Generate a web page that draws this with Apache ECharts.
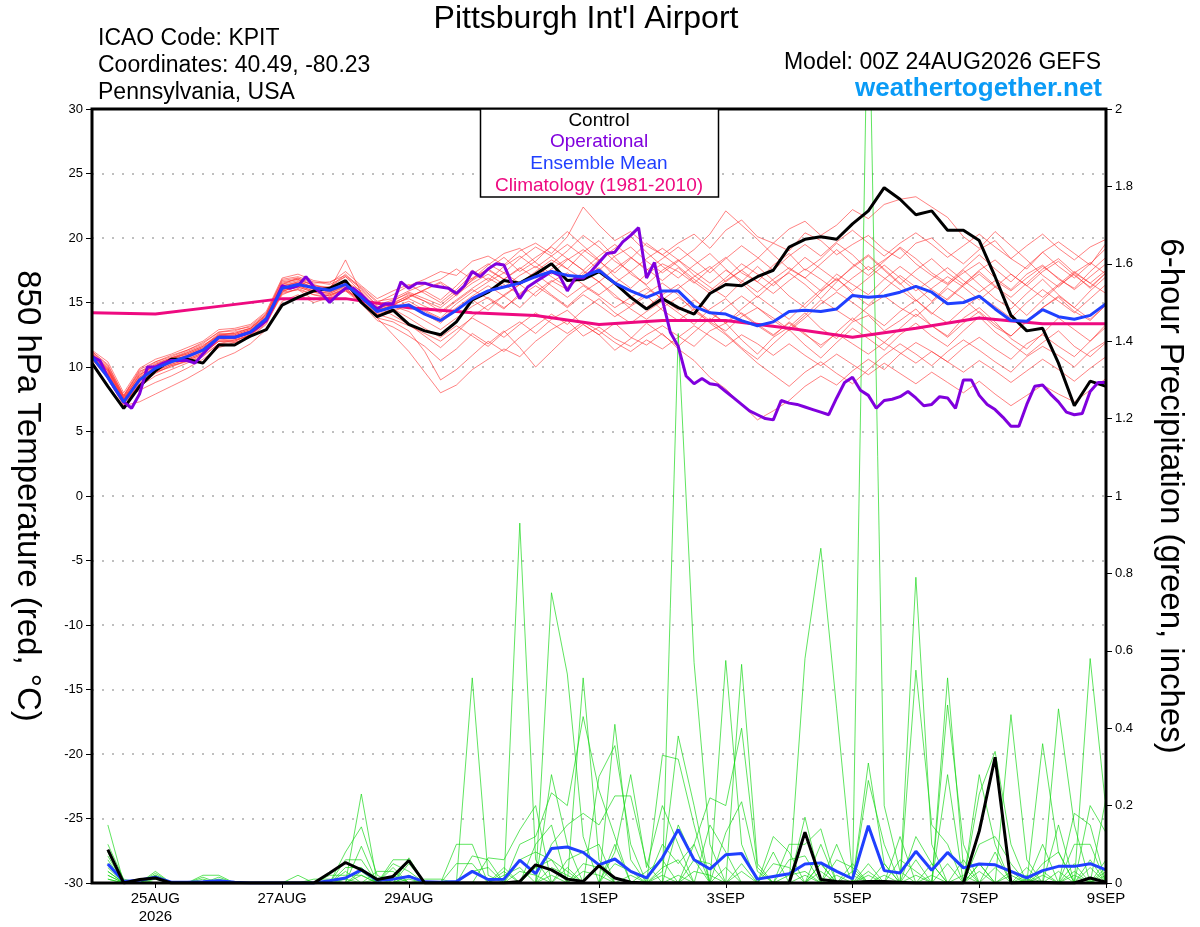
<!DOCTYPE html>
<html><head><meta charset="utf-8">
<script src="https://cdn.jsdelivr.net/npm/echarts@6/dist/echarts.min.js"></script>
<style>html,body{margin:0;padding:0;background:#fff}#c{width:1200px;height:927px}</style>
</head><body><div id="c"></div>
<script>
// ---- time grid (hours after 00Z 24AUG2026) ----
const STEP = 6, OP_STEP = 3, CLIM_STEP = 24, PRECIP_START = 6;
const xTickHours = [24, 72, 120, 192, 240, 288, 336, 384];
const xTickLabels = ['25AUG\n2026', '27AUG', '29AUG', '1SEP', '3SEP', '5SEP', '7SEP', '9SEP'];

// ---- 850 hPa temperature (deg C) ----
const climatology = [14.2,14.1,14.7,15.3,15.3,14.6,14.2,14.0,13.3,13.6,13.6,13.0,12.3,13.0,13.8,13.35,13.35];
const control = [10.3,8.5,6.8,8.5,9.7,10.6,10.6,10.3,11.7,11.7,12.4,12.9,14.8,15.4,15.9,16.1,16.7,15.0,13.9,14.4,13.3,12.8,12.5,13.5,15.2,15.8,16.7,16.5,17.2,18.0,16.7,16.8,17.4,16.5,15.4,14.5,15.3,14.6,14.1,15.7,16.4,16.3,17.0,17.5,19.3,19.9,20.1,19.9,21.1,22.1,23.9,23.0,21.8,22.1,20.6,20.6,19.8,17.0,14.0,12.8,13.0,10.3,7.0,8.9,8.5];
const operational = [10.8,10.5,9.2,8.2,7.3,6.8,7.9,10.0,10.0,10.3,
  10.5,10.5,10.5,10.3,11.0,11.7,12.3,12.3,12.3,12.5,
  12.7,13.1,13.6,14.9,16.3,16.1,16.3,17.0,16.2,15.7,
  15.0,15.6,16.1,16.1,15.6,15.0,14.5,14.9,14.9,16.6,
  16.1,16.5,16.5,16.3,16.2,16.1,15.7,16.3,17.4,17.0,
  17.6,18.0,17.9,16.5,15.3,16.2,16.6,17.0,17.4,17.1,
  15.9,16.9,16.9,17.4,18.1,18.8,18.9,19.7,20.2,20.8,
  16.9,18.1,15.2,12.7,11.6,9.3,8.7,9.1,8.7,8.6,
  8.1,7.6,7.1,6.6,6.3,6.0,5.9,7.4,7.2,7.1,
  6.9,6.7,6.5,6.3,7.6,8.8,9.2,8.2,7.8,6.8,
  7.4,7.5,7.7,8.1,7.6,7.0,7.1,7.7,7.6,6.8,
  9.0,9.0,7.8,7.1,6.7,6.1,5.4,5.4,7.1,8.5,
  8.6,7.9,7.3,6.5,6.3,6.4,8.1,8.8,8.8];
const ensMean = [10.8,9.2,7.3,9.0,9.9,10.4,10.8,11.3,12.3,12.3,12.7,13.75,16.1,16.4,16.15,15.95,16.4,15.4,14.3,14.65,14.8,14.1,13.6,14.4,15.3,15.9,16.2,16.5,17.0,17.4,17.1,17.0,17.5,16.5,15.9,15.4,15.9,15.9,14.7,14.2,14.1,13.6,13.2,13.5,14.3,14.4,14.3,14.5,15.55,15.4,15.5,15.8,16.25,15.8,14.9,15.0,15.5,14.5,13.6,13.55,14.45,13.9,13.7,14.0,14.9];

const tm01 = [11.2,10.2,7.8,9.6,10.4,10.9,11.3,11.9,12.7,12.9,13.1,14.1,16.8,17.0,16.6,16.4,17.0,16.1,15.0,15.6,16.3,16.8,17.4,17.1,18.2,18.6,17.9,19.0,19.6,18.8,20.1,22.4,21.0,19.8,20.5,19.4,18.7,19.6,20.3,19.2,20.6,21.4,20.1,19.6,19.0,20.4,19.8,18.7,19.5,20.2,19.1,18.4,19.6,20.0,18.9,18.0,19.1,19.8,18.4,17.6,18.9,19.7,18.8,17.9,19.6];
const tm02 = [10.9,9.5,7.4,8.2,8.8,9.3,9.9,10.6,11.5,11.9,12.3,13.3,15.8,16.0,15.2,15.6,16.0,15.0,13.8,12.5,11.2,9.6,8.0,8.6,9.8,10.6,11.4,10.8,12.0,12.9,13.6,12.4,13.1,12.2,11.6,12.5,13.2,12.4,11.6,12.8,13.4,12.1,11.0,12.3,13.1,14.2,13.0,12.2,13.5,14.0,12.8,13.6,14.5,13.2,12.4,13.8,14.6,13.5,12.2,11.4,12.6,13.8,12.9,12.0,13.3];
const tm03 = [11.0,9.8,7.6,9.4,10.2,10.6,11.1,11.6,12.5,12.6,13.0,14.0,16.4,16.9,16.3,16.1,16.6,15.9,14.7,14.0,13.3,12.4,11.5,12.6,13.9,14.8,15.5,14.6,15.8,16.7,16.0,17.2,18.3,17.0,16.1,17.2,18.0,17.4,16.5,17.6,18.5,17.3,16.6,17.9,18.8,17.5,18.4,19.6,18.7,17.5,18.3,19.2,18.0,17.1,16.4,17.3,18.1,16.9,16.0,17.2,17.9,16.8,16.1,17.4,18.5];
const tm04 = [10.6,9.1,7.0,7.3,7.9,8.5,9.1,9.8,10.6,11.1,11.8,12.9,15.1,15.6,15.0,15.4,15.9,15.3,14.5,14.9,15.6,15.1,14.3,15.2,16.1,16.9,16.2,17.1,17.8,17.0,16.2,17.4,16.6,15.4,14.8,15.7,16.5,15.6,14.3,13.5,12.8,13.9,14.6,13.8,12.9,14.0,15.2,14.4,13.6,14.7,15.5,14.6,13.9,15.0,16.1,15.3,14.2,13.1,12.4,13.5,14.6,15.4,14.3,13.6,14.8];
const tm05 = [11.3,10.4,8.0,9.9,10.6,11.0,11.5,12.0,12.9,13.0,13.3,14.3,16.9,17.2,16.7,16.5,17.4,16.3,15.3,15.9,16.4,15.7,15.0,16.0,17.2,18.0,17.3,18.4,19.3,18.6,17.6,18.9,19.8,18.5,17.2,16.4,17.5,18.3,17.1,16.2,15.4,16.6,17.8,16.7,15.5,14.6,15.8,16.9,15.7,14.8,16.0,17.1,16.2,15.1,16.3,17.5,16.4,15.3,14.5,15.7,16.8,15.6,14.6,15.9,17.0];
const tm06 = [10.8,9.4,7.3,8.9,9.7,10.2,10.6,11.1,12.0,12.1,12.5,13.6,15.9,16.2,15.8,15.6,16.1,15.1,14.1,14.5,13.8,13.0,12.3,13.2,12.4,11.6,12.7,13.5,12.6,13.7,14.4,13.3,12.5,13.4,12.3,11.7,12.6,11.4,10.5,9.2,8.3,7.1,5.9,6.6,7.4,8.5,9.3,8.6,9.7,10.6,9.8,11.0,11.9,11.2,10.4,11.5,12.3,11.4,10.6,11.8,12.5,11.6,10.8,12.0,13.1];
const tm07 = [11.1,10.0,7.7,9.7,10.0,10.7,11.2,11.7,12.4,12.7,13.0,14.1,16.6,16.8,16.0,16.2,17.0,15.8,14.4,14.8,15.4,16.0,16.5,15.5,16.8,17.6,18.5,17.4,18.2,19.4,20.5,19.4,18.3,19.2,20.1,18.9,17.8,16.9,17.9,18.8,17.6,16.5,15.4,16.5,17.3,16.4,15.3,16.6,17.8,18.7,17.6,16.5,15.2,14.1,15.3,16.4,17.4,16.3,15.1,14.0,15.2,16.3,17.2,16.1,17.3];
const tm08 = [10.7,9.3,7.2,8.6,9.5,10.1,10.5,11.0,12.0,12.0,12.5,13.5,15.8,16.4,16.2,15.8,16.3,15.2,13.9,14.3,14.8,14.1,13.4,14.5,15.2,14.4,15.6,16.4,15.5,16.6,17.3,16.4,15.6,16.5,17.4,16.3,15.2,16.1,17.0,17.8,16.6,17.5,18.4,19.6,20.7,21.3,20.2,21.0,22.2,21.5,22.6,23.0,23.2,22.4,21.6,20.1,19.2,20.5,19.4,18.3,17.1,16.2,17.3,18.1,17.2];
const tm09 = [10.9,9.7,7.5,9.2,10.1,10.5,10.9,11.4,12.3,12.4,12.8,13.8,16.2,16.6,16.2,15.9,16.5,15.5,14.3,14.6,15.1,14.4,13.8,14.9,15.8,16.6,17.3,16.5,17.4,18.3,17.6,16.8,17.7,16.5,15.5,14.6,15.6,16.4,15.3,14.2,13.4,14.5,15.5,14.6,13.7,14.9,16.0,17.2,16.4,15.6,16.8,17.8,16.9,16.0,15.2,16.3,17.2,16.2,15.4,16.5,17.6,18.4,17.3,16.5,15.7];
const tm10 = [10.6,9.2,7.1,8.7,9.6,10.1,10.4,10.9,11.8,12.1,12.4,13.5,15.7,16.0,15.6,15.3,15.9,14.9,13.6,13.1,12.4,11.6,10.5,11.4,12.6,11.8,12.8,11.5,10.0,11.2,12.4,13.3,12.5,11.3,12.2,13.4,12.5,11.6,12.7,13.8,12.6,11.5,10.6,11.8,12.9,11.7,10.7,11.9,13.0,12.2,11.3,12.5,13.4,12.4,11.6,12.8,13.9,12.7,11.8,10.9,11.9,12.8,11.6,10.8,11.9];
const tm11 = [11.0,9.9,7.6,9.3,10.2,10.7,11.0,11.5,12.5,12.5,12.9,13.9,16.4,16.7,16.4,16.0,16.7,15.6,14.5,15.0,15.5,15.9,15.2,16.3,17.5,16.7,17.8,18.6,17.7,18.6,19.5,18.6,17.5,18.6,19.3,18.2,17.3,18.2,19.1,20.3,22.1,21.0,19.9,18.7,17.6,16.9,18.0,19.1,18.0,17.1,18.2,19.3,18.4,17.3,16.5,17.6,18.7,17.6,16.6,17.8,18.9,17.8,16.9,18.0,19.2];
const tm12 = [10.8,9.5,7.4,9.0,9.8,10.3,10.7,11.2,12.2,12.2,12.6,13.6,16.0,16.3,15.9,15.7,16.2,15.3,14.2,14.7,14.3,13.6,12.9,13.8,14.7,15.4,14.6,15.5,16.3,15.5,14.6,15.6,14.8,13.9,14.7,15.5,14.4,13.6,14.5,13.4,12.5,11.4,10.3,9.4,8.5,9.6,10.4,9.5,8.7,9.8,10.9,11.8,11.0,10.1,11.2,12.1,11.3,10.4,9.6,10.8,11.6,10.9,10.0,11.2,12.0];
const tm13 = [11.2,10.1,7.8,9.8,10.4,10.8,11.3,11.8,12.7,12.8,13.2,14.2,16.7,16.9,16.5,16.6,17.1,16.2,15.1,15.3,15.9,16.4,16.8,17.6,16.8,17.9,18.8,19.2,18.1,17.2,18.3,19.1,18.2,17.3,18.4,19.6,18.7,17.8,16.8,15.9,16.9,18.0,17.2,16.3,17.4,18.5,17.6,16.7,17.7,18.6,17.5,16.4,17.5,18.4,17.3,16.4,17.5,18.3,17.2,16.3,17.4,18.2,17.1,16.2,17.3];
const tm14 = [10.7,9.2,7.2,8.5,9.3,9.8,10.3,10.8,11.8,11.9,12.3,13.4,15.6,16.1,15.6,15.5,16.0,15.0,13.8,13.5,12.8,11.2,9.0,9.8,10.9,12.0,11.2,12.3,13.2,14.1,13.3,14.4,15.3,14.2,13.4,14.3,15.1,14.2,13.3,14.5,15.3,14.1,13.2,12.4,13.5,12.6,11.5,12.7,13.8,12.8,11.9,13.0,14.1,13.2,12.3,13.4,14.3,13.3,12.4,13.6,14.6,15.5,14.6,13.7,14.8];
const tm15 = [11.0,9.7,7.5,9.1,10.0,10.5,10.9,11.4,12.4,12.4,12.8,13.8,16.3,16.5,16.1,16.0,16.6,15.6,14.6,14.9,15.3,14.7,14.2,15.1,16.0,15.3,14.5,15.7,16.6,15.6,14.7,15.8,16.6,15.6,14.5,13.7,14.6,15.4,14.5,13.6,14.6,15.5,14.6,13.6,12.8,13.8,14.9,15.8,15.0,14.1,13.2,14.3,15.2,14.2,13.4,14.5,15.5,14.7,13.8,15.0,16.0,15.1,14.2,15.3,16.4];
const tm16 = [10.9,9.6,7.4,9.2,10.0,10.4,10.8,11.3,12.2,12.3,12.7,13.7,16.1,16.5,16.0,15.8,16.4,15.4,14.4,14.8,15.4,16.0,16.6,15.8,16.7,17.5,16.8,17.6,18.5,19.3,18.4,17.5,18.6,19.5,18.5,17.5,18.4,19.3,18.3,17.3,18.4,19.4,18.5,17.5,18.6,19.5,18.6,19.7,20.6,19.6,18.6,19.6,20.4,19.5,18.5,19.4,20.3,19.3,18.4,19.4,20.3,19.2,18.3,19.3,19.9];
const tm17 = [10.7,9.3,7.2,8.7,9.6,10.0,10.5,11.0,12.0,12.0,12.5,13.5,15.9,16.2,15.8,15.5,16.1,15.1,14.0,14.4,14.9,14.3,13.7,14.6,15.5,16.3,15.5,16.4,17.2,16.3,15.4,16.3,15.5,14.6,15.4,16.1,15.3,14.4,15.2,14.3,13.4,14.2,13.3,12.5,13.4,12.5,11.7,12.6,11.8,11.0,11.9,11.1,10.3,11.2,10.4,9.6,10.5,9.7,8.8,9.7,10.6,9.8,8.9,9.9,10.8];
const tm18 = [11.1,9.9,7.7,9.5,10.3,10.7,11.1,11.6,12.6,12.6,13.0,14.0,16.5,16.8,16.3,16.2,17.2,16.0,14.8,15.2,15.7,15.1,14.6,15.6,16.5,17.2,16.4,15.6,16.7,17.6,18.4,17.5,16.6,17.6,18.5,17.6,16.7,17.7,16.6,15.7,16.7,17.5,16.6,15.7,16.7,17.6,16.8,15.9,16.9,17.8,16.9,16.0,15.1,16.1,17.0,16.2,15.2,16.2,17.2,16.3,15.4,16.4,17.4,16.5,17.5];
const tm19 = [10.8,9.4,7.3,8.8,9.7,10.2,10.6,11.1,12.1,12.2,12.6,13.6,16.0,16.3,15.9,15.7,16.3,15.2,14.1,13.7,13.2,12.6,12.0,12.9,13.8,13.1,12.3,13.3,14.2,13.4,12.6,13.5,12.8,11.9,11.2,12.1,11.4,12.3,13.2,12.4,11.6,12.5,11.8,10.9,11.8,10.9,10.1,11.0,10.2,9.4,10.3,9.5,8.7,9.6,8.8,8.0,8.9,7.9,7.0,7.8,8.6,7.9,7.3,8.2,9.1];
const tm20 = [11.0,9.8,7.5,9.4,10.1,10.6,11.0,11.5,12.4,12.5,12.9,13.9,16.3,16.6,16.2,16.0,18.3,15.7,14.6,15.1,15.8,15.3,14.8,15.8,16.9,17.6,16.8,17.7,16.9,18.0,19.0,20.2,19.3,18.2,17.4,18.4,19.2,18.3,17.4,16.5,17.5,16.7,15.8,16.8,17.7,16.9,15.9,16.8,15.9,16.9,17.9,16.9,15.9,16.8,17.7,16.7,15.8,16.7,15.9,16.9,17.8,16.9,16.0,17.0,18.0];
const tempMembers = [tm01,tm02,tm03,tm04,tm05,tm06,tm07,tm08,tm09,tm10,tm11,tm12,tm13,tm14,tm15,tm16,tm17,tm18,tm19,tm20];

// ---- 6-hour precipitation (inches), first value = 6h ----
const precipControl = [0.086,0,0.009,0.013,0,0,0,0, 0,0,0,0,0,0,0.026,0.053, 0.034,0.009,0.017,0.058,0,0,0,0, 0,0,0.004,0.047,0.034,0.01,0.004,0.045, 0.013,0.002,0,0,0,0,0,0, 0,0,0,0,0.131,0.009,0.004,0.002, 0.004,0.004,0.002,0,0,0,0,0.134, 0.325,0,0.002,0.002,0,0,0.013,0.002];
const precipMean = [0.049,0.004,0.007,0.015,0.002,0.002,0.003,0.006, 0.002,0,0,0,0,0,0.006,0.013, 0.034,0.007,0.01,0.017,0.003,0.002,0.004,0.03, 0.009,0.01,0.059,0.024,0.089,0.093,0.079,0.047, 0.062,0.03,0.013,0.065,0.138,0.06,0.036,0.073, 0.076,0.01,0.017,0.024,0.049,0.052,0.03,0.011, 0.148,0.032,0.026,0.082,0.033,0.079,0.039,0.049, 0.047,0.03,0.013,0.032,0.043,0.043,0.05,0.034];

const pm01 = [.15,0,0,.02,0,0,0,0, 0,0,0,0,0,0,0,0, .23,0,.05,.03,0,0,0,0, 0,0,.93,.06,0,0,0,0, 0,0,0,0,1.42,.57,.1,0, 0,0,0,0,0,.05,0,0, .31,.05,0,0,0,0,0,.28, .1,0,0,0,0,0,.2,.13];
const pm02 = [.08,0,0,.03,0,0,0,0, 0,0,0,0,0,0,0,.08, .145,.02,0,.065,0,0,0,.53, .02,0,0,0,.28,.1,0,0, .41,.06,0,0,0,0,0,.575, .1,0,0,0,.58,.865,.45,.02, 0,0,0,.06,0,.53,.04,0, 0,0,0,.36,.08,0,0,.22];
const pm03 = [.07,0,0,0,0,0,.02,.02, 0,0,0,0,0,0,0,0, .095,0,.06,.06,0,0,.1,.1, 0,0,0,0,.75,.54,.12,0, 0,0,0,.03,.38,.2,0,0, .565,.05,0,0,0,0,0,0, 2.4,.2,.03,0,0,0,0,0, 0,.435,.06,0,0,0,.58,.19];
const pm04 = [.06,0,0,.025,0,0,0,0, 0,0,0,0,0,0,0,.06, .06,0,0,0,0,0,0,0, .065,.06,.137,.2,0,0,.53,.06, 0,0,0,.33,.32,.15,0,0, 0,0,0,.1,.1,.14,0,0, 0,0,0,.79,.1,0,0,.23, .34,.1,0,0,.45,.15,0,.06];
const pm05 = [.05,0,0,0,0,0,0,.015, 0,0,0,0,0,0,0,.04, .04,0,.04,0,0,0,0,0, 0,0,.1,.12,.233,.2,.43,.24, .12,0,0,0,0,.1,.22,.2, .4,.04,0,0,.17,0,.1,0, .265,.1,0,.55,.15,.1,0,0, 0,0,0,.1,0,.18,.15,0];
const pm06 = [.04,0,0,.02,0,0,0,0, 0,0,0,0,.02,0,0,0, .03,0,0,.05,0,0,0,0, 0,.04,0,.1,.15,0,0,.275, .355,.1,0,0,.15,.06,0,0, 0,0,.12,.08,0,0,0,0, .05,0,.12,0,0,.46,.1,0, 0,0,.04,0,.15,0,0,.04];
const pm07 = [.03,0,0,0,0,0,.015,0, 0,0,0,0,0,0,0,.03, 0,.03,.03,0,0,0,0,.07, .06,0,0,0,.1,.15,.18,.15, .225,.225,.05,0,0,0,0,.13, .21,.03,0,0,0,.1,0,.05, 0,0,0,.12,.05,0,0,.1, .12,.05,0,0,0,.1,.1,0];
const pm08 = [.03,0,0,.015,0,0,0,0, 0,0,0,0,0,0,.02,.02, .02,0,0,.02,0,0,.05,.05, 0,0,.06,.08,.06,0,0,0, .08,.28,.04,.2,.1,0,.15,.08, 0,0,0,.06,.07,0,0,0, 0,.05,0,0,0,.28,0,.05, 0,0,0,.05,.08,0,0,0];
const pm09 = [.02,0,.01,0,0,0,0,.01, 0,0,0,0,0,.01,.01,0, 0,.01,0,.02,0,0,0,0, 0,.02,.04,0,0,.06,.08,.1, 0,0,0,.1,.05,.1,0,0, 0,0,.08,0,0,0,.06,.04, 0,0,0,0,.05,0,.06,0, .08,0,.02,0,0,.05,0,0];
const pm10 = [.02,0,0,.01,0,0,.01,0, 0,0,0,0,0,0,0,0, 0,0,0,0,.01,.01,0,0, 0,0,0,.04,.06,.03,0,0, .1,0,.03,.06,0,.06,.05,0, 0,0,.05,.04,0,.05,0,.03, 0,0,.06,.03,0,0,0,.05, 0,.03,0,.02,0,0,.06,0];
const pm11 = [.01,0,0,0,0,0,0,0, 0,0,0,0,0,0,0,0, .02,0,0,0,0,0,0,0, 0,0,.03,.02,0,0,.05,.04, 0,0,0,.04,.06,0,0,0, .05,0,0,.02,.03,0,0,0, 0,.02,0,0,0,.05,0,.03, 0,0,0,0,.03,0,.04,0];
const pm12 = [.01,0,0,0,0,0,0,0, 0,0,0,0,0,0,0,.01, 0,0,0,.01,0,0,0,0, 0,0,0,0,.04,.02,0,0, .05,.03,0,0,0,.03,.02,0, 0,0,0,0,0,.03,0,0, .03,0,0,.02,0,0,0,0, .04,0,0,0,0,.03,0,.03];
const pm13 = [.1,.01,0,0,0,0,0,0, 0,0,0,0,0,0,0,0, 0,0,0,0,0,0,0,.03, .04,0,0,0,.02,0,.03,.02, 0,0,0,0,.02,0,0,.04, 0,0,0,0,.02,0,0,0, 0,0,0,0,.02,0,0,0, 0,.02,0,.03,0,0,0,0];
const pm14 = [.05,0,0,0,0,0,0,0, 0,0,0,0,0,0,0,0, 0,0,.02,0,0,0,0,0, 0,.03,0,0,0,.04,0,0, 0,.02,0,.02,0,0,0,0, .03,0,0,0,0,0,.02,0, .02,0,0,0,0,0,.02,0, 0,0,.01,0,0,.02,0,.02];
const precipMembers = [pm01,pm02,pm03,pm04,pm05,pm06,pm07,pm08,pm09,pm10,pm11,pm12,pm13,pm14];

// ---- build ----
const FONT = '"Liberation Sans", Arial, Helvetica, sans-serif';
const G = { left: 92, right: 94, top: 109, bottom: 44 };
const pairs = (arr, step, start) => arr.map((v, i) => [start + i * step, v]);
const line = (name, data, yi, color, width, z) => ({
  name, type: 'line', data, yAxisIndex: yi, symbol: 'none', silent: true,
  lineStyle: { color, width }, z, animation: false
});
const series = [];
tempMembers.forEach((m, i) => series.push(line('T' + i, pairs(m, STEP, 0), 0, 'rgba(255,45,45,0.75)', 0.8, 2)));
precipMembers.forEach((m, i) => series.push(line('P' + i, pairs(m, STEP, PRECIP_START), 1, 'rgba(20,215,20,0.85)', 0.8, 3)));
series.push(line('Precip Mean', pairs(precipMean, STEP, PRECIP_START), 1, '#2040ff', 3, 5));
series.push(line('Precip Control', pairs(precipControl, STEP, PRECIP_START), 1, '#000000', 3, 5));
series.push(line('Climatology', pairs(climatology, CLIM_STEP, 0), 0, '#ee0a80', 3, 6));
series.push(line('Control', pairs(control, STEP, 0), 0, '#000000', 3, 7));
series.push(line('Operational', pairs(operational, OP_STEP, 0), 0, '#8000dd', 3, 8));
series.push(line('Ensemble Mean', pairs(ensMean, STEP, 0), 0, '#2040ff', 3, 9));

const txt = (text, x, y, size, align, color, weight) => ({
  type: 'text', z: 200, silent: true,
  style: { text, x, y, fontSize: size, fontFamily: FONT, fontWeight: weight || 'normal', fill: color || '#000', align, verticalAlign: 'middle' }
});

const option = {
  backgroundColor: '#fff',
  animation: false,
  grid: { left: G.left, right: G.right, top: G.top, bottom: G.bottom, show: false },
  xAxis: {
    type: 'value', min: 0, max: 384,
    axisLine: { show: false, onZero: false },
    splitLine: { show: false },
    axisTick: { show: true, customValues: xTickHours, length: 5, lineStyle: { color: '#000', width: 1 } },
    axisLabel: { customValues: xTickHours, formatter: v => xTickLabels[xTickHours.indexOf(v)], fontSize: 15, fontFamily: FONT, color: '#000', margin: 7, lineHeight: 18 }
  },
  yAxis: [
    {
      type: 'value', min: -30, max: 30, interval: 5, position: 'left',
      name: '850 hPa Temperature (red, °C)', nameLocation: 'middle', nameGap: 48, nameRotate: -90,
      nameTextStyle: { fontSize: 33, fontFamily: FONT, color: '#000' },
      axisLine: { show: false },
      axisTick: { show: true, length: 6, lineStyle: { color: '#000' } },
      axisLabel: { fontSize: 13, fontFamily: FONT, color: '#000', margin: 9 },
      splitLine: { show: true, lineStyle: { color: '#aaa', width: 1.5, type: [2, 8] } }
    },
    {
      type: 'value', min: 0, max: 2, interval: 0.2, position: 'right',
      name: '6-hour Precipitation (green, inches)', nameLocation: 'middle', nameGap: 48, nameRotate: -90,
      nameTextStyle: { fontSize: 33, fontFamily: FONT, color: '#000' },
      axisLine: { show: false },
      axisTick: { show: true, length: 6, lineStyle: { color: '#000' } },
      axisLabel: { fontSize: 13, fontFamily: FONT, color: '#000', margin: 9, formatter: v => String(+v.toFixed(1)) },
      splitLine: { show: false }
    }
  ],
  graphic: [
    { type: 'rect', z: 120, silent: true, shape: { x: G.left, y: G.top, width: 1200 - G.left - G.right, height: 927 - G.top - G.bottom }, style: { fill: 'none', stroke: '#000', lineWidth: 3 } },
    txt("Pittsburgh Int'l Airport", 586, 19, 32, 'center'),
    txt('ICAO Code: KPIT', 98, 39, 23, 'left'),
    txt('Coordinates: 40.49, -80.23', 98, 66, 23, 'left'),
    txt('Pennsylvania, USA', 98, 93, 23, 'left'),
    txt('Model: 00Z 24AUG2026 GEFS', 1101, 63, 23, 'right'),
    txt('weathertogether.net', 1102, 89, 26, 'right', '#0a9bf6', 'bold'),
    { type: 'rect', z: 150, silent: true, shape: { x: 480.5, y: 109, width: 238, height: 88 }, style: { fill: '#fff', stroke: '#000', lineWidth: 1.5 } },
    txt('Control', 599, 121, 19, 'center', '#000'),
    txt('Operational', 599, 142, 19, 'center', '#8000dd'),
    txt('Ensemble Mean', 599, 163.5, 19, 'center', '#2040ff'),
    txt('Climatology (1981-2010)', 599, 186, 19, 'center', '#ee0a80')
  ],
  series
};
const chart = echarts.init(document.getElementById('c'), null, { renderer: 'canvas' });
chart.setOption(option);
</script></body></html>
